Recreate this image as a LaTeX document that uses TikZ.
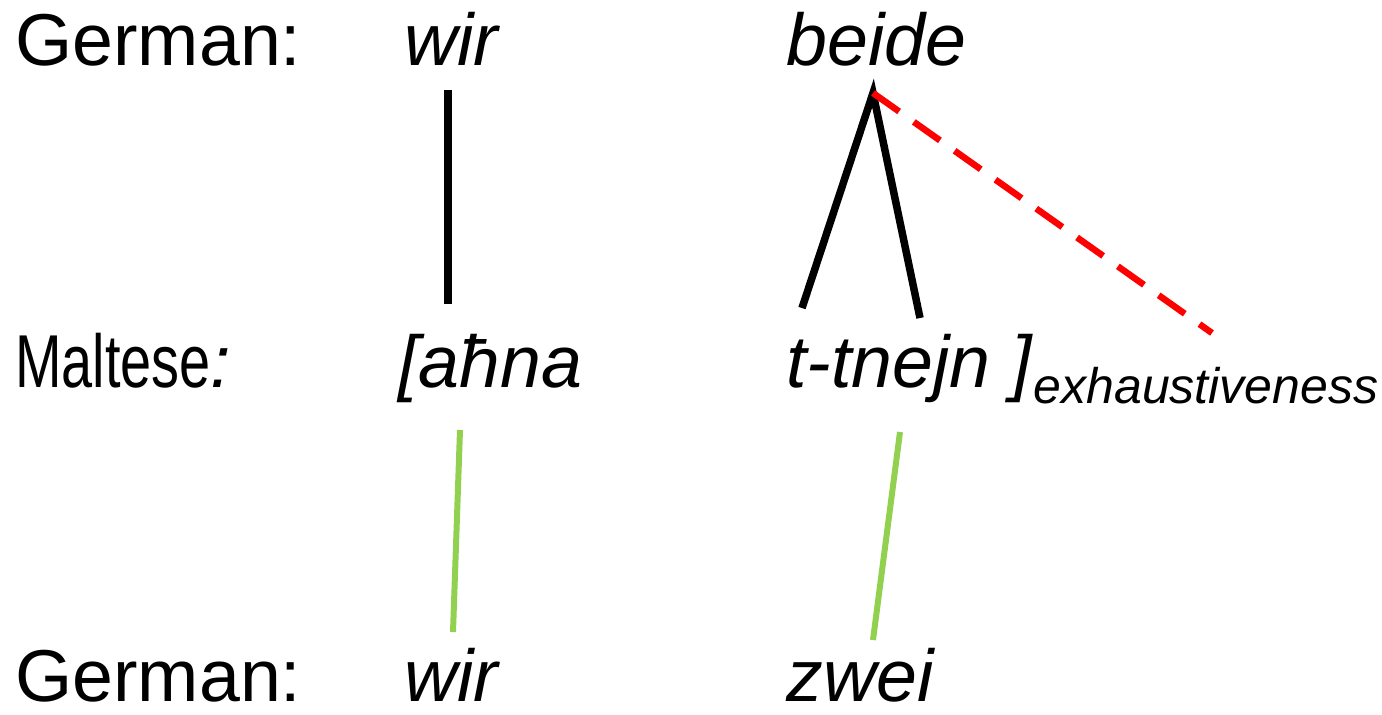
\documentclass[tikz,border=0pt]{standalone}
\usepackage{fontspec}
\setmainfont{Liberation Sans}
\usetikzlibrary{positioning}
\definecolor{hlgreen}{HTML}{92D050}
\tikzset{
  word/.style={anchor=base west,inner sep=0pt,font=\fontsize{36.75}{44}\selectfont},
  link/.style={line width=3.75pt},
  newlink/.style={line width=3pt,color=hlgreen},
  extra/.style={line width=3.25pt,color=red,dash pattern=on 16pt off 9pt}
}
\begin{document}
\begin{tikzpicture}[x=0.5pt,y=-0.5pt]
  \useasboundingbox (0,0) rectangle (1382,714);
  % rows
  \node[word] at (15,65)(gerA){German:};
  \node[word] at (15,387)(mlt){\scalebox{0.76}[1.02]{Maltese}\textit{:}};
  \node[word] at (15,701)(gerB){German:};
  % words
  \node[word] at (404,65)(wirA){\textit{wir}};
  \node[word] at (786,65)(beide){\textit{beide}};
  \node[word] at (398,387)(ahna){\textit{[aħna}};
  \node[word] at (786,387)(tnejn){\textit{t-tnejn ]}};
  \node[anchor=base west,inner sep=0pt,font=\fontsize{25}{30}\selectfont] at (tnejn.base east)(exh){\raisebox{-8pt}{\textit{exhaustiveness}}};
  \node[word] at (404,701)(wirB){\textit{wir}};
  \node[word] at (786,701)(zwei){\textit{zwei}};
  % line ends
  \coordinate (wirTop) at (448,90);
  \coordinate (wirBot) at (448,304);
  \coordinate (apex) at (873,93);
  \coordinate (legL) at (802,308);
  \coordinate (legR) at (920,318);
  \coordinate (exhEnd) at (1212,333);
  \coordinate (ahnaBot) at (460,430);
  \coordinate (wirBTop) at (453,632);
  \coordinate (tnejnBot) at (900,432);
  \coordinate (zweiTop) at (873,640);
  \draw[link] (wirTop) -- (wirBot);
  \draw[link] (legL) -- (apex) -- (legR);
  \draw[extra] (apex) -- (exhEnd);
  \draw[newlink] (ahnaBot) -- (wirBTop);
  \draw[newlink] (tnejnBot) -- (zweiTop);
\end{tikzpicture}
\end{document}
